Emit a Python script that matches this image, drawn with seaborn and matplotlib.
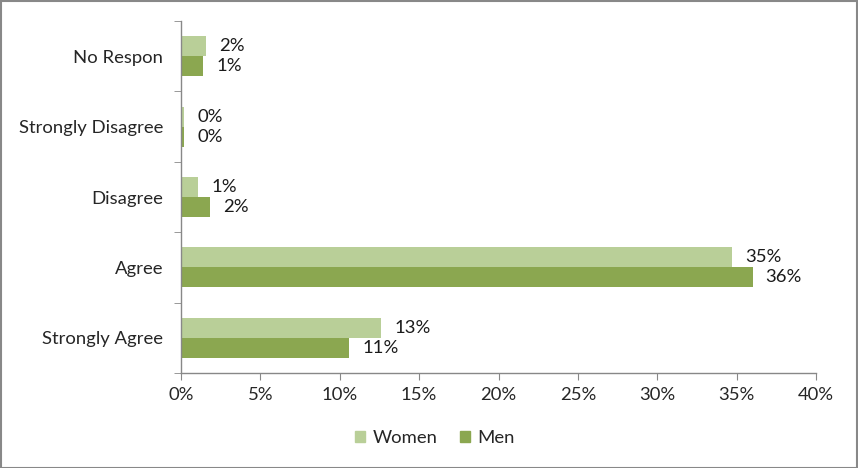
import matplotlib
matplotlib.use("Agg")
import matplotlib.pyplot as plt
import seaborn as sns
import pandas as pd
from matplotlib.patches import Rectangle

categories = ["No Respon", "Strongly Disagree", "Disagree", "Agree", "Strongly Agree"]
women = [1.6, 0.2, 1.1, 34.7, 12.6]
men = [1.4, 0.2, 1.8, 36.0, 10.6]
series = ["Women", "Men"]
colors = ["#B9CF98", "#8BA750"]

df = pd.DataFrame({
    "cat": categories * 2,
    "val": women + men,
    "series": ["Women"] * len(categories) + ["Men"] * len(categories),
})

sns.set_style("white")
plt.rcParams["font.family"] = ["Lato", "DejaVu Sans"]
FS = 13.3

fig = plt.figure(figsize=(8.58, 4.68), dpi=100)
ax = fig.add_axes([181/858, 1 - 373/468, (816 - 181)/858, (373 - 21)/468])

sns.barplot(data=df, y="cat", x="val", hue="series", order=categories,
            hue_order=series, palette=colors, orient="h", width=0.57,
            ax=ax, saturation=1, legend=False, edgecolor="none")

for cont in ax.containers:
    for bar in cont:
        w = bar.get_width()
        y = bar.get_y() + bar.get_height() / 2
        ax.annotate(f"{round(w):.0f}%", (w, y), xytext=(9.5, 0),
                    textcoords="offset points", va="center", ha="left",
                    fontsize=FS, color="#1a1a1a")

ax.set_xlim(0, 40)
ax.set_xticks(range(0, 41, 5))
ax.set_xticklabels([f"{t}%" for t in range(0, 41, 5)], fontsize=FS)
ax.set_ylabel("")
ax.set_xlabel("")
ax.tick_params(axis="y", labelsize=FS, length=0, pad=13)
ax.tick_params(axis="x", length=5, color="#888888", direction="out", bottom=True, pad=5)
ax.set_yticks(range(len(categories)))
ax.set_yticklabels(categories)
ax.set_yticks([i + 0.5 for i in range(-1, len(categories))], minor=True)
ax.tick_params(axis="y", which="minor", length=5, color="#888888", left=True, direction="out")
for s in ["top", "right"]:
    ax.spines[s].set_visible(False)
for s in ["left", "bottom"]:
    ax.spines[s].set_color("#888888")
    ax.spines[s].set_linewidth(1)

handles = [Rectangle((0, 0), 1, 1, color=c) for c in colors]
fig.legend(handles, series, loc="center", bbox_to_anchor=(435/858, 1 - 438/468),
           ncol=2, frameon=False, fontsize=FS, handlelength=0.55, handleheight=0.55,
           columnspacing=1.2, handletextpad=0.4)

fig.patches.append(Rectangle((0.5/858, 0.5/468), 1 - 1.5/858, 1 - 1.5/468,
                             transform=fig.transFigure, fill=False,
                             edgecolor="#888888", linewidth=1.5))

fig.savefig("out.png", dpi=100)
